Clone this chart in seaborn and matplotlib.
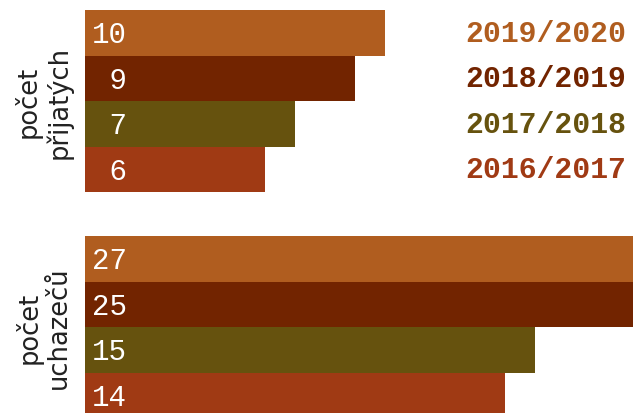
# Počet uchazečů a přijatých podle akademického roku

import matplotlib
matplotlib.use("Agg")
import matplotlib.pyplot as plt
import matplotlib.transforms as mtransforms
import seaborn as sns

# Data
roky = ["2019/2020", "2018/2019", "2017/2018", "2016/2017"]
prijati = [10, 9, 7, 6]
uchazeci = [27, 25, 15, 14]
barvy = ["#B05D1F", "#722400", "#66520E", "#A03A14"]

sns.set_theme(style="white")
plt.rcParams["font.family"] = ["DejaVu Sans"]

fig = plt.figure(figsize=(6.33, 4.14), dpi=100)
W, H = 633, 414
x0 = 85
sirka_px = W - x0
px_na_jednotku = 30.0

def osa(top_px, bottom_px):
    return fig.add_axes([x0 / W, 1 - bottom_px / H, sirka_px / W, (bottom_px - top_px) / H])

ax_top = osa(11, 193)
ax_bot = osa(237, 419)

for ax, hodnoty, popisek in [(ax_top, prijati, "počet\npřijatých"),
                             (ax_bot, uchazeci, "počet\nuchazečů")]:
    sns.barplot(x=hodnoty, y=roky, hue=roky, palette=barvy, width=1,
                orient="h", legend=False, ax=ax, saturation=1, linewidth=0)
    ax.set_xlim(0, sirka_px / px_na_jednotku)
    ax.set_ylim(3.5, -0.5)
    ax.set_xticks([])
    ax.set_yticks([])
    ax.set_xlabel("")
    ax.set_ylabel("")
    for s in ax.spines.values():
        s.set_visible(False)
    ax.patch.set_alpha(0)

    # hodnoty v pruzích
    for i, v in enumerate(hodnoty):
        ax.annotate(f"{v:>2}", xy=(0, i), xytext=(5, -1), textcoords="offset points",
                    ha="left", va="center", color="white", fontsize=21,
                    family=["Liberation Mono", "DejaVu Sans Mono"])

    # popisek skupiny
    tr = mtransforms.blended_transform_factory(fig.transFigure, ax.transAxes)
    ax.text(43 / W, 0.5, popisek, transform=tr, rotation=90, ha="center",
            va="center", multialignment="center", fontsize=18.5, color="#222222",
            linespacing=1.15)

# legenda vpravo nahoře
tr = mtransforms.blended_transform_factory(fig.transFigure, ax_top.transData)
for i, (rok, c) in enumerate(zip(roky, barvy)):
    ax_top.text(626 / W, i, rok, transform=tr, ha="right", va="center",
                color=c, fontsize=21.5, fontweight="bold",
                family=["Liberation Mono", "DejaVu Sans Mono"])

plt.savefig("out.png", dpi=100)
